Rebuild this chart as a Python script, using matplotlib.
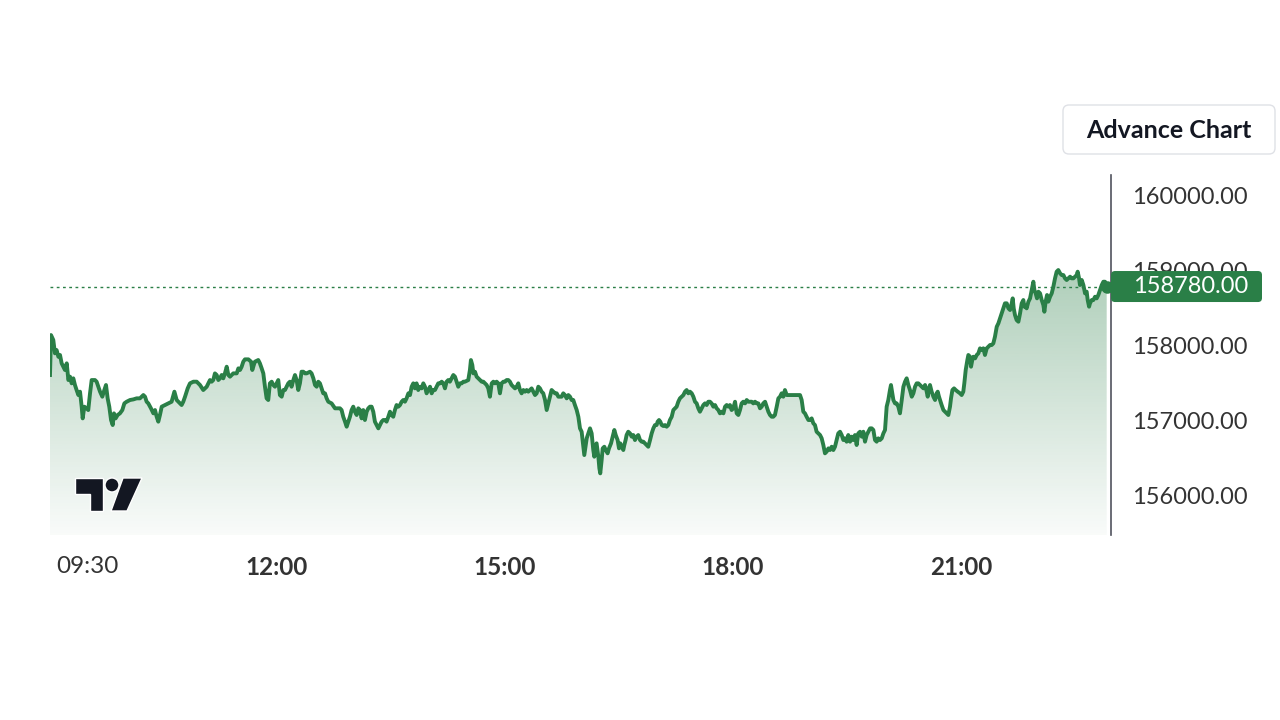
import numpy as np
import matplotlib
matplotlib.use("Agg")
import matplotlib.pyplot as plt
import matplotlib.patches as mpatches
from matplotlib.transforms import IdentityTransform

# intraday price, minutes after 09:00
t_a = [0.8, 1.6, 3.4, 4.7, 6.0, 7.4, 8.7, 10.0, 11.3, 12.6,
       14.0, 15.3, 16.6, 17.9, 19.2, 20.5, 21.8, 23.2, 24.5, 25.8,
       26.6, 27.9, 29.7, 31.0, 32.4, 33.7, 36.3, 37.6, 40.3, 42.1,
       43.7, 45.0, 46.3, 47.6, 49.0, 50.3, 51.3, 52.6, 54.2, 56.0,
       57.9, 59.5, 61.3, 64.0, 66.6, 69.2, 71.8, 74.5, 75.8, 77.1,
       78.4, 80.5, 82.4, 83.7, 85.0, 86.3, 87.6, 89.0, 91.6, 94.2,
       96.8, 99.0, 100.8, 102.1, 103.4, 104.7, 106.0, 107.4, 109.5, 111.3,
       114.0, 116.6, 119.2, 121.8, 124.5, 125.8, 127.1, 128.4, 129.7, 131.0,
       132.4, 133.7, 135.0, 136.3, 137.6, 138.9, 140.3, 141.6, 142.9, 145.5,
       148.2, 149.5, 150.8, 152.1, 153.4, 154.7, 157.4, 159.5, 160.5, 162.1]
p_a = [157600, 158133, 158067, 157889, 157933, 157844, 157867, 157756, 157711, 157667,
       157756, 157533, 157578, 157489, 157556, 157467, 157400, 157333, 157378, 157178,
       157022, 157178, 157156, 157133, 157356, 157533, 157533, 157511, 157378, 157311,
       157400, 157467, 157289, 157178, 157000, 156933, 157089, 157022, 157067, 157089,
       157133, 157222, 157244, 157267, 157275, 157289, 157289, 157333, 157311, 157244,
       157222, 157156, 157089, 157133, 157044, 156978, 157067, 157178, 157200, 157222,
       157244, 157378, 157267, 157244, 157222, 157200, 157244, 157311, 157422, 157489,
       157511, 157511, 157467, 157400, 157444, 157489, 157533, 157511, 157533, 157622,
       157600, 157533, 157556, 157600, 157556, 157622, 157711, 157600, 157578, 157622,
       157622, 157689, 157667, 157711, 157778, 157809, 157809, 157778, 157667, 157756]

t_b = [162.6, 165.2, 166.5, 167.9, 169.2, 170.5, 171.8, 173.1, 174.4, 175.8,
       177.1, 178.4, 179.7, 181.0, 182.3, 183.7, 185.0, 186.3, 187.6, 188.9,
       190.2, 191.5, 192.9, 194.2, 195.5, 196.8, 198.1, 199.4, 200.8, 202.1,
       203.4, 206.0, 207.3, 208.7, 210.0, 211.3, 212.6, 213.9, 215.2, 216.5,
       217.9, 219.2, 220.5, 223.1, 225.8, 228.4, 229.7, 231.0, 232.3, 233.7,
       235.0, 236.3, 237.6, 238.9, 240.2, 241.5, 242.9, 244.2, 245.5, 246.8,
       248.1, 249.4, 250.8, 252.1, 253.4, 254.7, 256.0, 257.3, 258.7, 260.0,
       261.3, 262.6, 263.9, 265.2, 266.5, 267.9, 269.2, 270.5, 271.8, 273.1,
       274.4, 275.8, 277.1, 278.4, 279.7, 281.0, 282.3, 283.7, 285.0, 286.3,
       287.6, 288.9, 290.2, 291.5, 292.9, 294.2, 295.5, 296.8, 298.1, 299.4,
       300.8, 302.1, 303.4, 304.7, 306.0, 307.3, 308.7, 310.0, 311.3, 312.6,
       313.9, 315.2, 316.5, 317.9, 319.2, 320.5, 321.8, 323.1, 324.4, 325.8,
       327.1]
p_b = [157778, 157800, 157756, 157689, 157622, 157444, 157289, 157267, 157489, 157511,
       157467, 157444, 157489, 157533, 157333, 157311, 157400, 157400, 157444, 157489,
       157511, 157444, 157533, 157600, 157533, 157400, 157489, 157644, 157644, 157622,
       157622, 157644, 157622, 157556, 157467, 157444, 157511, 157489, 157422, 157356,
       157356, 157289, 157244, 157222, 157156, 157156, 157156, 157133, 157044, 156978,
       156911, 156978, 157044, 157133, 157178, 157111, 157067, 157156, 157133, 157022,
       157133, 157000, 157111, 157156, 157178, 157178, 157111, 156978, 156933, 156889,
       156933, 156978, 157000, 157000, 156978, 157044, 157111, 157067, 157044, 157133,
       157200, 157178, 157200, 157244, 157267, 157244, 157289, 157356, 157333, 157444,
       157489, 157422, 157489, 157400, 157444, 157422, 157489, 157444, 157356, 157400,
       157444, 157356, 157400, 157400, 157444, 157489, 157489, 157511, 157489, 157422,
       157511, 157533, 157511, 157556, 157600, 157578, 157511, 157444, 157489, 157489,
       157511]

t_c = [328.4, 331.0, 332.3, 333.1, 334.2, 335.0, 336.3, 337.6, 338.9, 340.2,
       341.6, 342.9, 344.2, 345.5, 346.8, 348.1, 349.5, 350.8, 352.1, 353.4,
       354.7, 356.0, 357.3, 358.7, 360.0, 361.3, 362.6, 363.9, 365.2, 366.6,
       367.9, 369.2, 370.5, 371.8, 373.1, 374.5, 375.8, 377.1, 378.4, 379.7,
       381.0, 382.3, 383.7, 385.0, 386.3, 387.6, 388.9, 390.2, 391.6, 392.9,
       394.2, 395.5, 396.8, 398.1, 399.5, 400.8, 402.1, 403.4, 404.7, 406.0,
       407.3, 408.7, 410.0, 411.3, 412.6, 413.9, 415.2, 416.6, 417.9, 419.2,
       420.5, 421.8, 422.6, 423.7, 424.5, 425.8, 427.1, 428.4, 429.7, 430.5,
       431.6, 432.3, 433.7, 434.5, 435.2, 436.3, 437.1, 438.4, 439.5, 441.0,
       442.1, 443.7, 444.7, 446.3, 447.4, 448.9, 450.0, 451.0, 452.1, 453.4,
       454.2, 455.2, 456.0, 457.3, 458.7, 460.0, 461.3, 462.6, 463.9, 465.2,
       466.6, 467.9, 469.2, 470.5, 471.8, 473.1, 474.5, 475.8, 477.1, 478.4,
       479.7, 480.5, 481.6, 482.6, 483.7, 485.0, 486.3, 487.6, 488.9, 490.2,
       491.6, 492.9, 494.2]
p_c = [157511, 157533, 157667, 157800, 157733, 157622, 157644, 157578, 157556, 157533,
       157511, 157511, 157489, 157467, 157422, 157311, 157489, 157511, 157489, 157511,
       157489, 157356, 157489, 157511, 157511, 157533, 157533, 157511, 157467, 157444,
       157422, 157444, 157489, 157400, 157356, 157400, 157378, 157400, 157378, 157400,
       157422, 157378, 157333, 157356, 157444, 157422, 157378, 157356, 157267, 157133,
       157222, 157311, 157400, 157378, 157356, 157356, 157311, 157311, 157311, 157356,
       157333, 157289, 157333, 157311, 157267, 157267, 157200, 157133, 157044, 156889,
       156844, 156644, 156533, 156667, 156756, 156822, 156889, 156822, 156600, 156511,
       156622, 156689, 156511, 156356, 156289, 156467, 156622, 156644, 156600, 156556,
       156622, 156689, 156756, 156867, 156800, 156733, 156622, 156689, 156644, 156600,
       156667, 156733, 156800, 156844, 156822, 156778, 156800, 156733, 156778, 156800,
       156733, 156711, 156711, 156689, 156667, 156644, 156733, 156822, 156889, 156933,
       156933, 156978, 157000, 156978, 156933, 156920, 156933, 156911, 156933, 157000,
       157044, 157133, 157156]

t_d = [495.5, 496.8, 498.1, 499.5, 500.8, 502.1, 503.4, 504.7, 506.0, 507.4,
       508.7, 510.0, 511.3, 512.6, 513.9, 515.3, 516.6, 517.9, 519.2, 520.5,
       521.8, 523.1, 524.5, 525.8, 527.1, 528.4, 529.7, 531.0, 532.4, 533.7,
       535.0, 536.3, 537.6, 538.9, 540.2, 541.6, 542.9, 544.2, 545.5, 546.8,
       548.1, 549.5, 550.8, 552.1, 553.4, 554.7, 556.0, 557.4, 558.7, 560.0,
       561.3, 562.6, 563.9, 565.3, 566.6, 567.9, 569.2, 570.5, 571.8, 573.1,
       574.5, 575.8, 577.1, 578.4, 579.7, 581.0, 582.4, 583.7, 586.3, 588.9,
       592.9, 594.2, 595.5, 596.8, 598.1, 599.5, 600.8, 602.1, 603.4, 604.7,
       606.0, 607.4, 608.7, 610.0, 611.3, 612.6, 613.9, 615.3, 616.6, 617.9,
       619.2, 620.5, 621.8, 623.1, 624.5, 625.8, 627.1, 628.4, 629.7, 631.0,
       632.4, 633.7, 635.0, 636.3, 637.6, 638.9, 640.3, 641.6, 642.9, 644.2,
       645.5, 646.8, 648.2, 649.5, 650.8, 652.1, 653.4, 654.7, 656.0, 657.4,
       658.7, 660.0]
p_d = [157178, 157244, 157289, 157311, 157333, 157378, 157400, 157356, 157378, 157356,
       157311, 157244, 157222, 157156, 157111, 157156, 157200, 157222, 157200, 157244,
       157244, 157222, 157178, 157200, 157156, 157133, 157089, 157111, 157089, 157178,
       157200, 157178, 157200, 157133, 157156, 157244, 157089, 157067, 157133, 157222,
       157244, 157222, 157267, 157244, 157244, 157244, 157222, 157244, 157222, 157222,
       157156, 157178, 157222, 157244, 157178, 157111, 157067, 157044, 157044, 157067,
       157178, 157289, 157311, 157356, 157311, 157400, 157333, 157333, 157333, 157333,
       157333, 157267, 157111, 157089, 157044, 157000, 157000, 157022, 156956, 156933,
       156844, 156822, 156800, 156756, 156667, 156556, 156578, 156622, 156600, 156644,
       156600, 156644, 156733, 156822, 156844, 156800, 156733, 156756, 156711, 156800,
       156711, 156778, 156733, 156800, 156667, 156822, 156844, 156778, 156844, 156711,
       156800, 156844, 156889, 156889, 156867, 156733, 156711, 156756, 156733, 156756,
       156822, 156867]

t_e = [661.3, 662.6, 663.9, 664.7, 665.8, 666.6, 667.9, 669.2, 670.5, 671.8,
       673.2, 674.5, 675.8, 677.1, 678.4, 679.7, 681.1, 682.4, 683.7, 685.0,
       686.3, 687.6, 688.9, 690.3, 691.6, 692.9, 693.7, 694.7, 695.5, 696.8,
       698.2, 699.5, 700.8, 701.6, 702.6, 703.4, 704.7, 706.1, 707.4, 708.7,
       710.0, 711.3, 712.1, 713.2, 714.5, 715.8, 717.4, 719.2, 720.5, 721.8,
       722.6, 723.7, 725.0, 725.8, 727.1, 727.9, 728.9, 729.7, 731.1, 732.4,
       733.7, 735.0, 736.3, 737.6, 738.9, 740.3, 741.6, 742.9, 744.2, 745.5,
       746.8, 748.2, 749.5, 750.8, 752.1, 753.4, 754.7, 756.1, 757.4, 758.7,
       760.0, 760.8, 761.6, 762.6, 763.9, 765.3, 766.6, 767.9, 769.2, 770.0,
       771.1, 771.8, 773.2, 774.5, 775.8, 777.1, 777.9, 778.9, 780.0, 781.1,
       782.4, 783.7, 785.0, 785.8, 786.8, 787.9, 788.9, 790.3, 791.6, 792.9,
       794.2, 795.5, 796.8, 798.2, 799.5, 800.8, 802.1, 803.4, 804.7, 806.1,
       807.4, 808.7, 810.0, 811.3, 812.1, 813.2, 813.9, 815.3, 816.6, 817.9,
       819.2, 820.0, 821.1, 821.8, 823.2, 824.5, 825.8, 827.1, 828.4, 829.7,
       831.1, 832.4, 833.7, 835.0]
p_e = [157178, 157267, 157400, 157467, 157356, 157267, 157222, 157222, 157178, 157089,
       157267, 157444, 157511, 157556, 157467, 157400, 157311, 157356, 157444, 157489,
       157489, 157467, 157444, 157422, 157467, 157378, 157311, 157422, 157467, 157378,
       157311, 157267, 157356, 157378, 157311, 157267, 157200, 157133, 157111, 157089,
       157067, 157178, 157289, 157400, 157422, 157400, 157378, 157356, 157333, 157378,
       157489, 157667, 157800, 157867, 157844, 157711, 157800, 157844, 157822, 157867,
       157889, 157956, 157933, 157956, 157867, 157956, 157978, 158000, 158000, 158022,
       158111, 158244, 158289, 158356, 158422, 158489, 158556, 158556, 158489, 158467,
       158556, 158622, 158489, 158400, 158333, 158311, 158422, 158556, 158600, 158511,
       158511, 158489, 158578, 158622, 158733, 158844, 158733, 158689, 158622, 158711,
       158689, 158600, 158533, 158444, 158578, 158667, 158578, 158644, 158689, 158778,
       158889, 158978, 159000, 158956, 158933, 158933, 158889, 158867, 158889, 158911,
       158889, 158889, 158911, 158933, 158978, 158889, 158800, 158867, 158800, 158689,
       158711, 158600, 158511, 158556, 158600, 158600, 158644, 158622, 158667, 158733,
       158800, 158844, 158844, 158780]

last_price = 158780
time_ticks = [30, 180, 360, 540, 720]
time_labels = ['09:30', '12:00', '15:00', '18:00', '21:00']
price_ticks = [156000, 157000, 158000, 159000, 160000]

minutes = np.array(t_a + t_b + t_c + t_d + t_e)
prices = np.array(p_a + p_b + p_c + p_d + p_e)

GREEN = '#2a7f47'
TXT = '#333333'
plt.rcParams['font.family'] = ['Lato', 'DejaVu Sans']

W, H = 1280, 720
fig = plt.figure(figsize=(W / 100, H / 100), dpi=100)
fig.patch.set_facecolor('white')
ax = fig.add_axes([50 / W, (H - 535) / H, 1061 / W, 360 / H])

x0, x1 = 0.8, 838.4
y0, y1 = 155467, 160267

# gradient area under the line
rgb = matplotlib.colors.to_rgb(GREEN)
grad = np.zeros((256, 1, 4))
grad[..., :3] = rgb
grad[..., 3] = np.linspace(0.5, 0.03, 256)[:, None]
im = ax.imshow(grad, extent=[x0, x1, y0, y1], aspect='auto', origin='upper', zorder=1)
area = ax.fill_between(minutes, prices, y0, color='none', lw=0)
im.set_clip_path(area.get_paths()[0], transform=ax.transData)

ax.plot(minutes, prices, color=GREEN, lw=2.8, solid_joinstyle='round', zorder=3)
ax.axhline(last_price, color=GREEN, lw=1, ls=(0, (2, 2.5)), zorder=2)
ax.plot(minutes[-1], prices[-1], 'o', ms=8, color=GREEN, zorder=4)

ax.set_xlim(x0, x1)
ax.set_ylim(y0, y1)

for s in ['top', 'left', 'bottom']:
    ax.spines[s].set_visible(False)
ax.spines['right'].set_color('#50535e')
ax.spines['right'].set_linewidth(1.2)

ax.yaxis.tick_right()
ax.set_yticks(price_ticks)
ax.set_yticklabels([f'{v:.2f}' for v in price_ticks])
ax.tick_params(axis='y', length=0, pad=15, labelsize=17, labelcolor=TXT)
ax.set_xticks(time_ticks)
ax.set_xticklabels(time_labels)
ax.tick_params(axis='x', length=0, pad=15, labelsize=17.5, labelcolor=TXT)
for i, lab in enumerate(ax.get_xticklabels()):
    lab.set_fontweight('normal' if i == 0 else 'bold')

fig.canvas.draw()
ident = IdentityTransform()

# last price tag
ly = ax.transData.transform((0, last_price))[1]
tag = mpatches.FancyBboxPatch((1111, ly - 15.5), 151, 31,
                              boxstyle='round,pad=0,rounding_size=4',
                              fc=GREEN, ec='none', transform=ident, zorder=20)
fig.add_artist(tag)
fig.text(1133 / W, ly / H, f'{last_price:.2f}', color='white', fontsize=17,
         va='center', ha='left', zorder=21)

# "Advance Chart" button
btn = mpatches.FancyBboxPatch((1063, H - 154), 212, 49,
                              boxstyle='round,pad=0,rounding_size=6',
                              fc='white', ec='#dfe1e6', lw=1, transform=ident)
fig.add_artist(btn)
fig.text(1169 / W, (H - 131) / H, 'Advance Chart', color='#131722', fontsize=18,
         fontweight='bold', ha='center', va='center')

# TradingView logo
def tl(x, y):
    return (x, H - y)

logo_col = '#131722'
t_shape = mpatches.Polygon([tl(75, 478), tl(103, 478), tl(103, 511), tl(90, 511),
                            tl(90, 494), tl(75, 494)], closed=True,
                           fc=logo_col, ec='white', lw=1, transform=ident)
dot = mpatches.Circle(tl(112, 485), 7, fc=logo_col, ec='white', lw=1, transform=ident)
slash = mpatches.Polygon([tl(123, 478), tl(142, 478), tl(127, 511), tl(111, 511)],
                         closed=True, fc=logo_col, ec='white', lw=1, transform=ident)
for p in (t_shape, dot, slash):
    fig.add_artist(p)

fig.savefig('out.png', dpi=100)
